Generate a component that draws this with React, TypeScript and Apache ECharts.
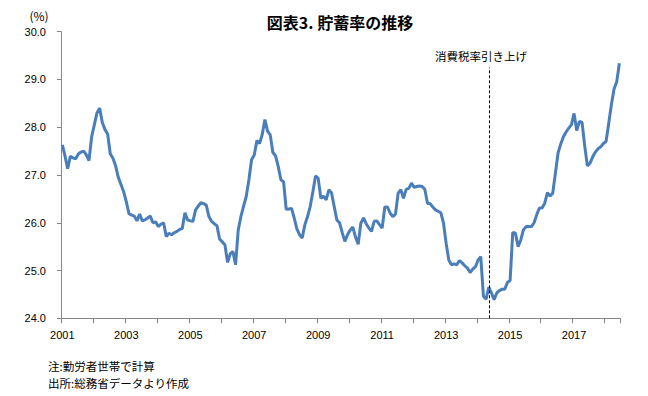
import React, { useEffect, useRef } from "react";
import * as echarts from "echarts";

// Monthly data, Jan 2001 – Jun 2018
const years = [2001, 2002, 2003, 2004, 2005, 2006, 2007, 2008, 2009, 2010, 2011, 2012, 2013, 2014, 2015, 2016, 2017, 2018];
const monthsInLastYear = 6;

const savingRate = [
  // 2001
  27.63, 27.40, 27.13, 27.39, 27.36, 27.34, 27.44, 27.48, 27.50, 27.42, 27.30, 27.80,
  // 2002
  28.05, 28.30, 28.40, 28.10, 27.95, 27.86, 27.44, 27.35, 27.19, 26.95, 26.80, 26.65,
  // 2003
  26.44, 26.19, 26.16, 26.14, 26.04, 26.18, 26.04, 26.06, 26.10, 26.14, 26.00, 26.02,
  // 2004
  25.92, 25.97, 26.00, 25.71, 25.78, 25.75, 25.79, 25.82, 25.86, 25.88, 26.21, 26.06,
  // 2005
  26.04, 26.03, 26.27, 26.35, 26.42, 26.40, 26.37, 26.13, 26.03, 25.98, 25.94, 25.66,
  // 2006
  25.60, 25.54, 25.17, 25.35, 25.40, 25.12, 25.85, 26.13, 26.35, 26.55, 26.90, 27.32,
  // 2007
  27.42, 27.72, 27.66, 27.85, 28.16, 27.92, 27.84, 27.47, 27.40, 27.18, 26.90, 26.86,
  // 2008
  26.28, 26.29, 26.30, 26.10, 25.87, 25.75, 25.68, 25.96, 26.13, 26.34, 26.65, 26.98,
  // 2009
  26.93, 26.51, 26.56, 26.48, 26.69, 26.63, 26.34, 26.06, 26.00, 25.80, 25.61, 25.75,
  // 2010
  25.85, 25.91, 25.70, 25.55, 25.99, 26.10, 25.98, 25.89, 25.82, 26.03, 26.04, 25.96,
  // 2011
  25.89, 26.33, 26.33, 26.20, 26.13, 26.18, 26.62, 26.69, 26.51, 26.70, 26.72, 26.83,
  // 2012
  26.74, 26.76, 26.77, 26.76, 26.70, 26.41, 26.40, 26.33, 26.27, 26.24, 26.21, 26.00,
  // 2013
  25.57, 25.22, 25.12, 25.14, 25.12, 25.21, 25.16, 25.10, 25.05, 24.96, 25.03, 25.08,
  // 2014
  25.22, 25.29, 24.46, 24.40, 24.65, 24.53, 24.39, 24.53, 24.58, 24.61, 24.61, 24.75,
  // 2015
  24.79, 25.80, 25.78, 25.50, 25.64, 25.85, 25.92, 25.92, 25.92, 26.00, 26.17, 26.31,
  // 2016
  26.31, 26.41, 26.63, 26.56, 26.62, 27.04, 27.46, 27.65, 27.80, 27.90, 27.98, 28.05,
  // 2017
  28.29, 27.93, 28.12, 28.10, 27.61, 27.19, 27.25, 27.38, 27.48, 27.55, 27.59, 27.66,
  // 2018
  27.70, 28.08, 28.47, 28.80, 28.95, 29.34,
];

const yMin = 24;
const yMax = 30;
const yStep = 1;

const taxHikeMonth = "2014/05";
const taxHikeTop = 29.25;

const titleText = "図表3. 貯蓄率の推移";
const unitText = "(%)";
const annotationText = "消費税率引き上げ";
const note1 = "注:勤労者世帯で計算";
const note2 = "出所:総務省データより作成";

const categories: string[] = [];
years.forEach((y, yi) => {
  const n = yi === years.length - 1 ? monthsInLastYear : 12;
  for (let m = 1; m <= n; m++) categories.push(`${y}/${m < 10 ? "0" + m : m}`);
});

const CJK = '"Noto Sans CJK JP", "Noto Sans", sans-serif';
const LAT = '"Liberation Sans", Arial, sans-serif';

export default function App() {
  const ref = useRef<HTMLDivElement>(null);
  useEffect(() => {
    if (!ref.current) return;
    const chart = echarts.init(ref.current, undefined, { renderer: "svg" });
    chart.setOption({
      animation: false,
      backgroundColor: "#ffffff",
      grid: { left: 61, right: 27.3, top: 31.7, bottom: 77.7, containLabel: false },
      xAxis: {
        type: "category",
        data: categories,
        boundaryGap: true,
        axisLine: { show: true, lineStyle: { color: "#868686", width: 1 } },
        axisTick: { show: true, interval: 11, length: 5, lineStyle: { color: "#868686" } },
        axisLabel: {
          interval: 23,
          margin: 11,
          color: "#000",
          fontSize: 11,
          fontFamily: LAT,
          formatter: (v: string) => v.slice(0, 4),
        },
        splitLine: { show: false },
      },
      yAxis: {
        type: "value",
        min: yMin,
        max: yMax,
        interval: yStep,
        axisLine: { show: true, lineStyle: { color: "#868686", width: 1 } },
        axisTick: { show: true, length: 4, lineStyle: { color: "#868686" } },
        axisLabel: {
          margin: 15,
          color: "#000",
          fontSize: 11,
          fontFamily: LAT,
          formatter: (v: number) => v.toFixed(1),
        },
        splitLine: { show: false },
      },
      series: [
        {
          type: "line",
          data: savingRate,
          showSymbol: false,
          symbol: "none",
          lineStyle: { color: "#4A7EBB", width: 3 },
          itemStyle: { color: "#4A7EBB" },
          markLine: {
            silent: true,
            symbol: "none",
            label: { show: false },
            lineStyle: { color: "#000", width: 1, type: [3, 2] },
            data: [[{ coord: [taxHikeMonth, yMin] }, { coord: [taxHikeMonth, taxHikeTop] }]],
          },
        },
      ],
      graphic: [
        {
          type: "text",
          x: 340,
          y: 22,
          style: {
            text: titleText,
            fill: "#000",
            font: `bold 16px ${CJK}`,
            textAlign: "center",
            textVerticalAlign: "middle",
          },
        },
        {
          type: "text",
          x: 39,
          y: 15,
          style: {
            text: unitText,
            fill: "#000",
            font: `12px ${CJK}`,
            textAlign: "center",
            textVerticalAlign: "middle",
          },
        },
        {
          type: "text",
          x: 481,
          y: 56,
          style: {
            text: annotationText,
            fill: "#000",
            font: `11.5px ${CJK}`,
            textAlign: "center",
            textVerticalAlign: "middle",
          },
        },
        {
          type: "text",
          x: 48,
          y: 366,
          style: {
            text: note1,
            fill: "#000",
            font: `11.5px ${CJK}`,
            textAlign: "left",
            textVerticalAlign: "middle",
          },
        },
        {
          type: "text",
          x: 48,
          y: 383,
          style: {
            text: note2,
            fill: "#000",
            font: `11.5px ${CJK}`,
            textAlign: "left",
            textVerticalAlign: "middle",
          },
        },
      ],
    });
    return () => chart.dispose();
  }, []);
  return (
    <div
      ref={ref}
      style={{ position: "fixed", left: 0, top: 0, width: 648, height: 396, background: "#fff" }}
    />
  );
}
